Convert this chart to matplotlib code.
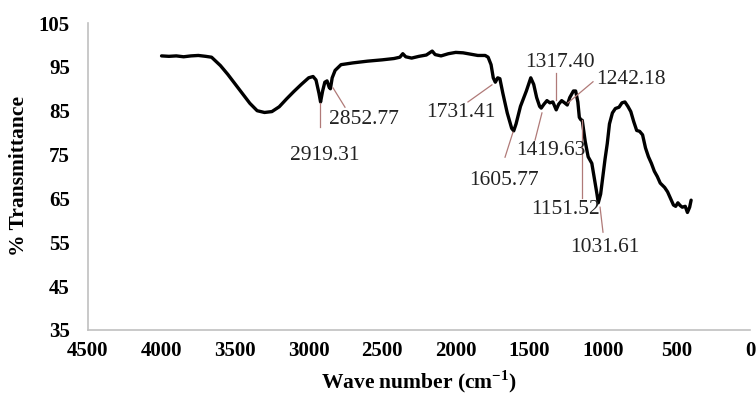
import numpy as np
import matplotlib
matplotlib.use("Agg")
import matplotlib.pyplot as plt

plt.rcParams['font.family'] = ['Liberation Serif', 'DejaVu Serif']
plt.rcParams['mathtext.fontset'] = 'custom'
plt.rcParams['mathtext.rm'] = 'Liberation Serif'
plt.rcParams['mathtext.bf'] = 'Liberation Serif:bold'

# FTIR spectrum
wavenumber = [4000, 3950, 3900, 3850, 3800, 3750, 3700, 3660, 3600, 3550,
              3500, 3450, 3400, 3350, 3300, 3250, 3200, 3150, 3100, 3050,
              3000, 2970, 2950, 2930, 2919, 2905, 2890, 2875, 2860, 2852,
              2840, 2820, 2780, 2700, 2600, 2500, 2420, 2380, 2360, 2340,
              2300, 2250, 2200, 2160, 2140, 2100, 2050, 2000, 1950, 1900,
              1850, 1800, 1780, 1760, 1745, 1731, 1715, 1700, 1680, 1650,
              1620, 1606, 1590, 1560, 1520, 1490, 1470, 1450, 1430, 1419,
              1400, 1380, 1360, 1340, 1317, 1300, 1280, 1260, 1242, 1225,
              1200, 1185, 1170, 1160, 1151, 1140, 1120, 1100, 1075, 1060,
              1040, 1031, 1015, 1000, 985, 970, 955, 935, 915, 890,
              870, 850, 830, 810, 790, 770, 750, 730, 710, 690,
              670, 650, 630, 610, 580, 560, 540, 520, 505, 490,
              475, 460, 440, 425, 410, 400]
transmittance = [97.5, 97.4, 97.5, 97.3, 97.5, 97.6, 97.4, 97.2, 95.3, 93.3,
                 91.1, 88.9, 86.7, 85.0, 84.6, 84.8, 85.9, 87.7, 89.4, 91.0,
                 92.5, 92.8, 92.0, 89.0, 87.0, 89.5, 91.5, 91.8, 90.3, 90.0,
                 92.5, 94.2, 95.5, 95.9, 96.3, 96.6, 96.9, 97.2, 98.0, 97.3,
                 97.0, 97.4, 97.7, 98.6, 97.8, 97.5, 98.0, 98.3, 98.2, 97.9,
                 97.6, 97.6, 97.2, 95.5, 92.5, 91.5, 92.5, 92.3, 89.0, 84.5,
                 81.0, 80.4, 82.0, 86.0, 89.5, 92.5, 91.0, 88.0, 86.0, 85.6,
                 86.5, 87.3, 86.8, 87.0, 85.2, 86.5, 87.3, 86.8, 86.3, 88.0,
                 89.5, 89.5, 87.0, 83.5, 83.0, 82.8, 78.0, 74.5, 73.0, 70.0,
                 66.0, 64.0, 66.0, 70.0, 74.0, 77.5, 82.0, 84.5, 85.5, 85.8,
                 86.8, 87.0, 86.0, 84.8, 82.5, 80.5, 80.3, 79.5, 76.5, 74.5,
                 73.0, 71.2, 70.0, 68.5, 67.5, 66.5, 65.0, 63.5, 63.2, 64.0,
                 63.4, 63.0, 63.2, 61.8, 63.0, 64.6]

# peak labels: text, text position, leader line (start, end)
peak_labels = ["2919.31", "2852.77", "1731.41", "1605.77", "1419.63",
               "1317.40", "1242.18", "1151.52", "1031.61"]
label_pos = [(2889, 74.9), (2624, 82.9), (1964, 84.5), (1672, 69.2),
             (1352, 76.0), (1291, 96.1), (809, 92.2), (1257, 62.4),
             (985, 53.9)]
leader_start = [(2923, 86.8), (2834, 90.2), (1754, 90.9), (1611, 80.1),
                (1414, 84.5), (1319, 93.6), (1237, 86.8), (1142, 82.9),
                (1019, 63.0)]
leader_end = [(2923, 81.3), (2753, 85.8), (1917, 87.0), (1665, 74.4),
              (1461, 78.3), (1319, 87.4), (1067, 91.6), (1142, 65.1),
              (999, 57.3)]

fig = plt.figure(figsize=(7.56, 3.96), dpi=100)
ax = fig.add_axes([0.1164, 0.1667, 0.8756, 0.7752])

ax.plot(wavenumber, transmittance, color="black", linewidth=2.4,
        solid_joinstyle="round", solid_capstyle="round")

for i in range(len(peak_labels)):
    ax.plot([leader_start[i][0], leader_end[i][0]],
            [leader_start[i][1], leader_end[i][1]],
            color="#b07a78", linewidth=0.9)
    ax.text(label_pos[i][0], label_pos[i][1], peak_labels[i],
            fontsize=15.5, ha="center", va="center", color="#222222")

ax.set_xlim(4500, 0)
ax.set_ylim(35, 105)
ax.set_xticks(np.arange(4500, -1, -500))
ax.set_yticks(np.arange(35, 106, 10))
for lbl in ax.get_xticklabels() + ax.get_yticklabels():
    lbl.set_fontweight("bold")
ax.tick_params(axis="both", length=0, labelsize=15)
ax.tick_params(axis="y", pad=13)
ax.tick_params(axis="x", pad=8)

for side in ["top", "right"]:
    ax.spines[side].set_visible(False)
for side in ["left", "bottom"]:
    ax.spines[side].set_color("#c0c0c0")
    ax.spines[side].set_linewidth(1.2)

ax.set_xlabel(r"Wave number (cm$^{\mathbf{-1}}$)", fontsize=15.5,
              fontweight="bold", labelpad=5)
ax.set_ylabel("% Transmittance", fontsize=15.5, fontweight="bold", labelpad=7)

fig.savefig("out.png", dpi=100)
